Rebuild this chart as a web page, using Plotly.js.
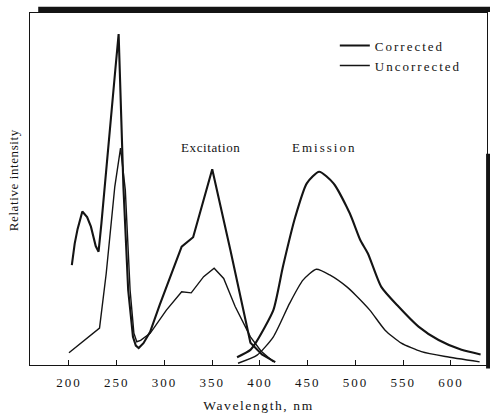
<!DOCTYPE html>
<html>
<head>
<meta charset="utf-8">
<script src="https://cdn.plot.ly/plotly-3.0.1.min.js"></script>
<style>
html,body{margin:0;padding:0;background:#fff;}
#chart{width:490px;height:416px;}
.legendtext{letter-spacing:2px;}
.xtick text{letter-spacing:2px;}
text.xtitle{letter-spacing:1.6px;}
.annotation[data-index="1"] text{letter-spacing:2px;}
.annotation[data-index="0"] text{letter-spacing:0.6px;}
.annotation[data-index="2"] text{letter-spacing:0.6px;}
</style>
</head>
<body>
<div id="chart"></div>
<script>
// Excitation spectrum, corrected
const excCorrWl = [203, 206, 209, 214, 219, 223, 228, 231, 234, 237, 248.5, 252, 257, 262, 267, 270, 273, 278, 285, 295, 318, 330, 350, 369, 390, 402, 416];
const excCorr   = [28.4, 34.5, 38.6, 43.6, 42.0, 39.3, 33.8, 32.2, 40.3, 49.7, 83.8, 94.0, 50.6, 21.3, 8.0, 5.5, 4.8, 6.2, 9.4, 17.1, 33.6, 36.3, 55.6, 32.7, 6.3, 3.0, 0.8];
// Excitation spectrum, uncorrected
const excUncWl = [200, 232, 239, 248, 254, 259, 264, 268, 271, 275, 285, 302, 318, 328, 341, 352, 362, 374, 390, 401, 414];
const excUnc   = [3.5, 10.5, 26.0, 50.7, 61.6, 49.7, 21.3, 9.0, 6.6, 7.0, 9.0, 15.6, 20.8, 20.5, 25.1, 27.5, 24.6, 16.6, 8.0, 4.0, 0.9];
// Emission spectrum, corrected
const emCorrWl = [376, 390, 396, 414, 424, 437, 449, 462, 477, 494, 505, 513, 527, 545, 566, 587, 611, 631];
const emCorr   = [2.2, 4.3, 6.5, 15.6, 27.9, 42.1, 51.6, 54.9, 51.6, 43.1, 35.5, 31.7, 22.2, 16.6, 10.9, 7.1, 4.3, 3.0];
// Emission spectrum, uncorrected
const emUncWl = [377, 397, 414, 431, 445, 459, 473, 491, 500, 515, 531, 548, 569, 594, 630];
const emUnc   = [0.5, 2.8, 8.0, 17.5, 24.1, 27.2, 25.6, 22.2, 19.9, 15.6, 9.9, 6.2, 3.8, 2.4, 0.9];
// Axis ticks and labels
const tickVals = [200, 250, 300, 350, 400, 450, 500, 550, 600];
const tickText = ['200', '250', '300', '350', '400', '450', '500', '550', '600'];
const seriesNames = ['Corrected', 'Uncorrected'];
const bandLabels = ['Excitation', 'Emission'];

const FONT = 'Liberation Serif, Times New Roman, serif';
const INK = '#141414';
const corrExc = {color: INK, width: 2.1, shape: 'linear'};
const uncExc = {color: INK, width: 1.4, shape: 'linear'};
const corrEm = {color: INK, width: 2.1, shape: 'spline', smoothing: 0.6};
const uncEm = {color: INK, width: 1.4, shape: 'spline', smoothing: 0.6};

const traces = [
  {x: excCorrWl, y: excCorr, mode: 'lines', line: corrExc, name: seriesNames[0], legendgroup: 'c', showlegend: true},
  {x: emCorrWl, y: emCorr, mode: 'lines', line: corrEm, name: seriesNames[0], legendgroup: 'c', showlegend: false},
  {x: excUncWl, y: excUnc, mode: 'lines', line: uncExc, name: seriesNames[1], legendgroup: 'u', showlegend: true},
  {x: emUncWl, y: emUnc, mode: 'lines', line: uncEm, name: seriesNames[1], legendgroup: 'u', showlegend: false}
];

const layout = {
  width: 490, height: 416,
  margin: {l: 30, r: 3, t: 13, b: 51},
  paper_bgcolor: '#fff', plot_bgcolor: '#fff',
  font: {family: FONT, color: INK, size: 12},
  showlegend: true,
  legend: {x: 0.667, y: 0.95, xanchor: 'left', yanchor: 'top', bgcolor: 'rgba(0,0,0,0)',
           font: {family: FONT, size: 13, color: INK}, itemwidth: 30, tracegroupgap: 0},
  xaxis: {
    range: [159.2, 637.7], tickvals: tickVals, ticktext: tickText,
    ticks: 'inside', ticklen: 5, tickwidth: 1, tickcolor: INK,
    showline: true, linecolor: INK, linewidth: 1.3, mirror: true,
    showgrid: false, zeroline: false, ticklabelstandoff: 5,
    tickfont: {family: FONT, size: 13, color: INK},
    title: {text: 'Wavelength, nm', font: {family: FONT, size: 13.5, color: INK}, standoff: 11}
  },
  yaxis: {
    range: [0, 100], showticklabels: false, ticks: '',
    showline: true, linecolor: INK, linewidth: 1, mirror: true,
    showgrid: false, zeroline: false
  },
  annotations: [
    {x: 349, y: 61.8, xref: 'x', yref: 'y', text: bandLabels[0], showarrow: false,
     font: {family: FONT, size: 13, color: INK}},
    {x: 468, y: 61.8, xref: 'x', yref: 'y', text: bandLabels[1], showarrow: false,
     font: {family: FONT, size: 13, color: INK}},
    {x: -0.035, y: 0.526, xref: 'paper', yref: 'paper', xanchor: 'center', yanchor: 'middle',
     text: 'Relative intensity', textangle: -90,
     showarrow: false, font: {family: FONT, size: 13, color: INK}}
  ],
  shapes: [
    {type: 'rect', xref: 'paper', yref: 'paper', x0: 0.018, x1: 1.007, y0: 1.003, y1: 1.018,
     fillcolor: INK, line: {width: 0}},
    {type: 'rect', xref: 'paper', yref: 'paper', x0: 0.998, x1: 1.007, y0: -0.01, y1: 0.6,
     fillcolor: INK, line: {width: 0}}
  ]
};

Plotly.newPlot('chart', traces, layout, {displayModeBar: false, staticPlot: true});
</script>
</body>
</html>
